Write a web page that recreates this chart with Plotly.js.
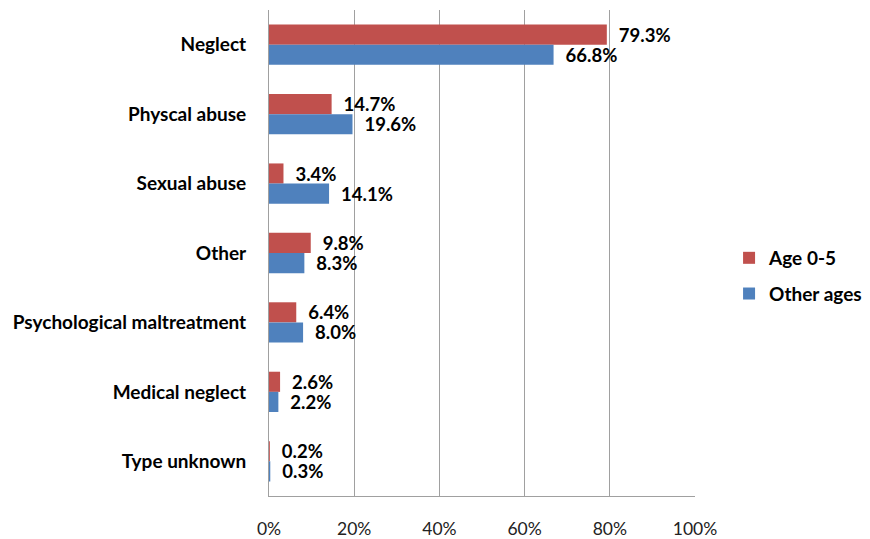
<!DOCTYPE html>
<html>
<head>
<meta charset="utf-8">
<script src="https://cdn.plot.ly/plotly-3.0.1.min.js"></script>
<style>html,body{margin:0;padding:0;background:#fff;}#chart{width:870px;height:539px;}</style>
</head>
<body>
<div id="chart"></div>
<script>
var categories = ["Neglect", "Physcal abuse", "Sexual abuse", "Other", "Psychological maltreatment", "Medical neglect", "Type unknown"];
var age05 = [79.3, 14.7, 3.4, 9.8, 6.4, 2.6, 0.2];
var otherAges = [66.8, 19.6, 14.1, 8.3, 8.0, 2.2, 0.3];
var seriesNames = ["Age 0-5", "Other ages"];
var tickVals = [0, 20, 40, 60, 80, 100];
var tickText = ["0%", "20%", "40%", "60%", "80%", "100%"];

var FONT = "Lato, 'Open Sans', sans-serif";
function mk(name, vals, color) {
  return {
    type: "bar", orientation: "h", name: name, legendgroup: name,
    y: categories, x: vals,
    marker: {color: color},
    text: vals.map(function(v){ return "\u00a0\u00a0" + v.toFixed(1) + "%"; }),
    textposition: "outside",
    constraintext: "none",
    textfont: {family: FONT, size: 18.5, color: "#000", weight: "bold"},
    cliponaxis: false,
    hoverinfo: "x+name"
  };
}
var data = [mk(seriesNames[0], age05, "#C0504D"), mk(seriesNames[1], otherAges, "#4F81BD")];
var layout = {
  width: 870, height: 539,
  margin: {l: 269, r: 175, t: 10, b: 43, autoexpand: false},
  paper_bgcolor: "#fff", plot_bgcolor: "#fff",
  barmode: "group", bargap: 0.42, bargroupgap: 0,
  xaxis: {
    range: [0, 100], tickvals: tickVals, ticktext: tickText,
    showgrid: true, gridcolor: "#A0A0A0", gridwidth: 1,
    showline: true, linecolor: "#A0A0A0", linewidth: 1,
    zeroline: false, ticks: "", ticklabelstandoff: 17,
    tickfont: {family: FONT, size: 17.5, color: "#222"}, fixedrange: true
  },
  yaxis: {
    autorange: "reversed", showgrid: false, zeroline: false,
    showline: true, linecolor: "#A0A0A0", linewidth: 1,
    ticks: "", ticklabelstandoff: 18,
    tickfont: {family: FONT, size: 19, color: "#000", weight: "bold"}, fixedrange: true
  },
  legend: {
    xref: "container", yref: "container",
    x: 0.838, y: 0.488, xanchor: "left", yanchor: "middle",
    font: {family: FONT, size: 19, color: "#000", weight: "bold"},
    itemwidth: 30, tracegroupgap: 8, traceorder: "grouped"
  },
  showlegend: true
};
Plotly.newPlot("chart", data, layout, {displayModeBar: false, staticPlot: true});
</script>
</body>
</html>
